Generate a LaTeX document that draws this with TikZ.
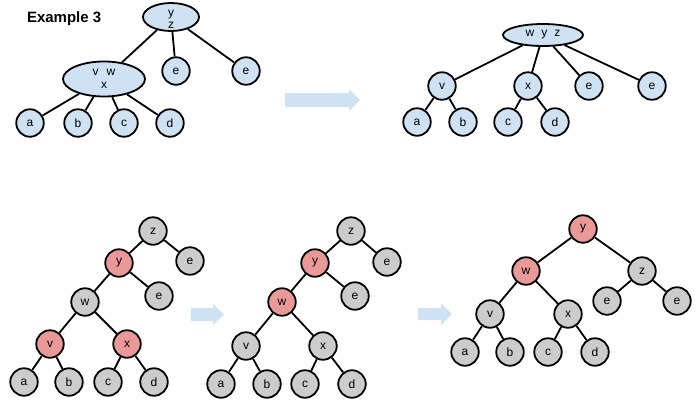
\documentclass[tikz,border=0pt]{standalone}
\usepackage{fontspec}
\setmainfont{Liberation Sans}
\usetikzlibrary{shapes.geometric}
\definecolor{nblue}{HTML}{CFE2F3}
\definecolor{ngray}{HTML}{CCCCCC}
\definecolor{nred}{HTML}{EA9999}
\definecolor{arrblue}{HTML}{CFE2F3}
\tikzset{
  x=1pt, y=-1pt,
  every node/.style={font=\fontsize{12}{14}\selectfont},
  tn/.style={circle, draw=black, line width=1.8pt, minimum size=27.5pt, inner sep=0pt},
  bn/.style={tn, fill=nblue},
  gn/.style={tn, fill=ngray},
  rn/.style={tn, fill=nred},
  en/.style={ellipse, draw=black, line width=1.8pt, fill=nblue, inner sep=0pt},
  edge/.style={line width=1.8pt, draw=black},
  bigarrow/.style={fill=arrblue, draw=none},
}
\begin{document}
\begin{tikzpicture}
\useasboundingbox (0,0) rectangle (697,400);
\node[font=\fontsize{15}{18}\selectfont\bfseries, anchor=base west] (title) at (23.5,22) {Example 3};

% ---------- top left ----------
\node[en, minimum width=56pt, minimum height=28pt, label={[font=\fontsize{12}{14}\selectfont, align=center, yshift=-2.5pt]center:y\\[-1.5pt]z}] (tyz) at (171,17) {};
\node[en, minimum width=82pt, minimum height=35pt, label={[font=\fontsize{12}{14}\selectfont, align=center]center:v\hspace{8pt}w\\[-1.5pt]x}] (tvwx) at (104,79) {};
\node[bn] (te1) at (176,71) {e};
\node[bn] (te2) at (246,71) {e};
\node[bn] (ta) at (30,123) {a};
\node[bn] (tb) at (78,123) {b};
\node[bn] (tc) at (124,123) {c};
\node[bn] (td) at (170,123) {d};
\draw[edge] (tyz) -- (tvwx);
\draw[edge] (tyz) -- (te1);
\draw[edge] (tyz) -- (te2);
\draw[edge] (tvwx) -- (ta);
\draw[edge] (tvwx) -- (tb);
\draw[edge] (tvwx) -- (tc);
\draw[edge] (tvwx) -- (td);

% arrow 1
\fill[bigarrow] (285,93) -- (349,93) -- (349,89) -- (360,100) -- (349,111) -- (349,107) -- (285,107) -- cycle;

% ---------- top right ----------
\node[en, minimum width=80pt, minimum height=22pt] (rwyz) at (543,35) {w\hspace{7pt}y\hspace{7pt}z};
\node[bn] (rv) at (442,86) {v};
\node[bn] (rx) at (528,86) {x};
\node[bn] (re1) at (589,86) {e};
\node[bn] (re2) at (652,86) {e};
\node[bn] (ra) at (417,122) {a};
\node[bn] (rb) at (463,122) {b};
\node[bn] (rc) at (508,122) {c};
\node[bn] (rd) at (555,122) {d};
\draw[edge] (rwyz) -- (rv);
\draw[edge] (rwyz) -- (rx);
\draw[edge] (rwyz) -- (re1);
\draw[edge] (rwyz) -- (re2);
\draw[edge] (rv) -- (ra);
\draw[edge] (rv) -- (rb);
\draw[edge] (rx) -- (rc);
\draw[edge] (rx) -- (rd);

% ---------- bottom left ----------
\node[gn] (az) at (153,231) {z};
\node[gn] (ae1) at (190,261) {e};
\node[rn] (ay) at (119,263) {y};
\node[gn] (ae2) at (159,296) {e};
\node[gn] (aw) at (85,302) {w};
\node[rn] (av) at (50,344) {v};
\node[rn] (ax) at (127,344) {x};
\node[gn] (aa) at (24,382) {a};
\node[gn] (ab) at (69,382) {b};
\node[gn] (ac) at (108,382) {c};
\node[gn] (ad) at (154,382) {d};
\draw[edge] (az) -- (ay);
\draw[edge] (az) -- (ae1);
\draw[edge] (ay) -- (aw);
\draw[edge] (ay) -- (ae2);
\draw[edge] (aw) -- (av);
\draw[edge] (aw) -- (ax);
\draw[edge] (av) -- (aa);
\draw[edge] (av) -- (ab);
\draw[edge] (ax) -- (ac);
\draw[edge] (ax) -- (ad);

% arrow 2
\fill[bigarrow] (191,308) -- (213,308) -- (213,304) -- (224,314.5) -- (213,325) -- (213,321) -- (191,321) -- cycle;

% ---------- bottom middle ----------
\node[gn] (bz) at (351,231) {z};
\node[gn] (be1) at (387,262) {e};
\node[rn] (by) at (315,263) {y};
\node[gn] (be2) at (355,296) {e};
\node[rn] (bw) at (282,302) {w};
\node[gn] (bv) at (246,346) {v};
\node[gn] (bx) at (323,346) {x};
\node[gn] (ba) at (221,384) {a};
\node[gn] (bb) at (267,384) {b};
\node[gn] (bc) at (305,384) {c};
\node[gn] (bd) at (352,384) {d};
\draw[edge] (bz) -- (by);
\draw[edge] (bz) -- (be1);
\draw[edge] (by) -- (bw);
\draw[edge] (by) -- (be2);
\draw[edge] (bw) -- (bv);
\draw[edge] (bw) -- (bx);
\draw[edge] (bv) -- (ba);
\draw[edge] (bv) -- (bb);
\draw[edge] (bx) -- (bc);
\draw[edge] (bx) -- (bd);

% arrow 3
\fill[bigarrow] (418,308) -- (441,308) -- (441,303) -- (452,314) -- (441,325) -- (441,320) -- (418,320) -- cycle;

% ---------- bottom right ----------
\node[rn] (cy) at (583,229) {y};
\node[rn] (cw) at (526,271) {w};
\node[gn] (cz) at (642,271) {z};
\node[gn] (ce1) at (607,301) {e};
\node[gn] (ce2) at (677,301) {e};
\node[gn] (cv) at (490,314) {v};
\node[gn] (cx) at (568,314) {x};
\node[gn] (ca) at (465,352) {a};
\node[gn] (cb) at (510,352) {b};
\node[gn] (cc) at (548,352) {c};
\node[gn] (cd) at (595,352) {d};
\draw[edge] (cy) -- (cw);
\draw[edge] (cy) -- (cz);
\draw[edge] (cw) -- (cv);
\draw[edge] (cw) -- (cx);
\draw[edge] (cz) -- (ce1);
\draw[edge] (cz) -- (ce2);
\draw[edge] (cv) -- (ca);
\draw[edge] (cv) -- (cb);
\draw[edge] (cx) -- (cc);
\draw[edge] (cx) -- (cd);
\end{tikzpicture}
\end{document}
